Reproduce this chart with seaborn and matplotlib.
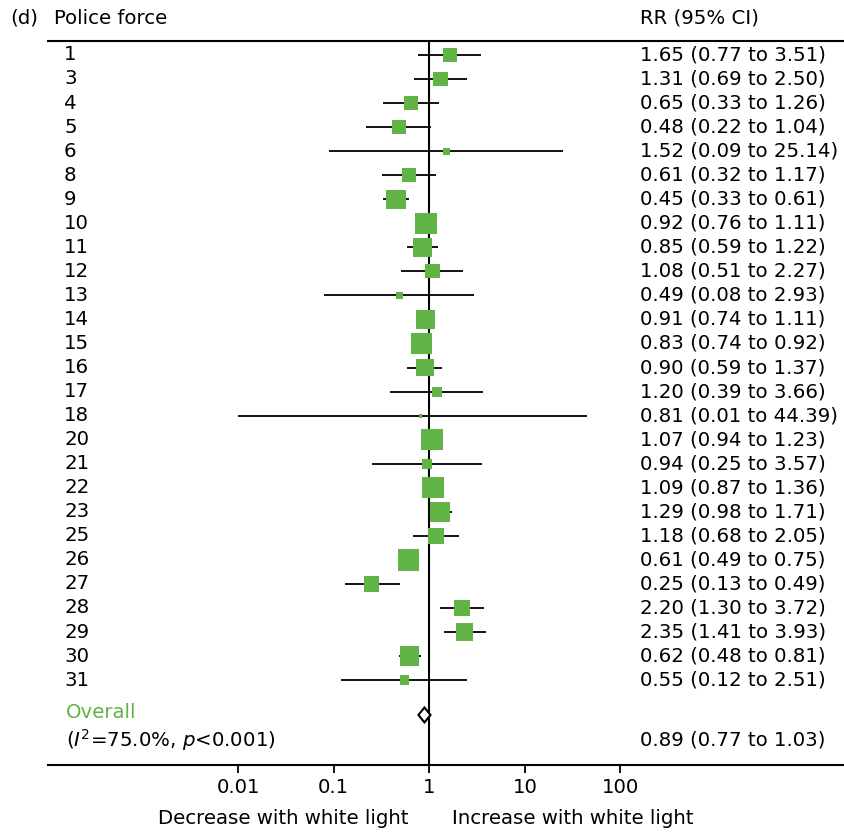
import numpy as np
import pandas as pd
import matplotlib
matplotlib.use("Agg")
import matplotlib.pyplot as plt
import matplotlib.transforms as mtransforms
import seaborn as sns

# Datos del forest plot (RR con IC 95%)
forces = ["1", "3", "4", "5", "6", "8", "9", "10", "11", "12", "13", "14", "15",
          "16", "17", "18", "20", "21", "22", "23", "25", "26", "27", "28", "29",
          "30", "31"]
rr = [1.65, 1.31, 0.65, 0.48, 1.52, 0.61, 0.45, 0.92, 0.85, 1.08, 0.49, 0.91, 0.83,
      0.90, 1.20, 0.81, 1.07, 0.94, 1.09, 1.29, 1.18, 0.61, 0.25, 2.20, 2.35,
      0.62, 0.55]
lo = [0.77, 0.69, 0.33, 0.22, 0.09, 0.32, 0.33, 0.76, 0.59, 0.51, 0.08, 0.74, 0.74,
      0.59, 0.39, 0.01, 0.94, 0.25, 0.87, 0.98, 0.68, 0.49, 0.13, 1.30, 1.41,
      0.48, 0.12]
hi = [3.51, 2.50, 1.26, 1.04, 25.14, 1.17, 0.61, 1.11, 1.22, 2.27, 2.93, 1.11, 0.92,
      1.37, 3.66, 44.39, 1.23, 3.57, 1.36, 1.71, 2.05, 0.75, 0.49, 3.72, 3.93,
      0.81, 2.51]
# peso relativo (%) estimado del tamaño de los cuadrados
weights = [2.8, 2.8, 2.8, 2.8, 0.7, 2.8, 5.2, 6.4, 5.2, 2.8, 0.7, 5.2, 6.4,
           4.2, 1.4, 0.2, 6.4, 1.4, 6.4, 5.8, 3.7, 6.4, 3.2, 3.7, 4.2, 5.2, 1.2]
overall_rr, overall_lo, overall_hi = 0.89, 0.77, 1.03
ticks = [0.01, 0.1, 1, 10, 100]
tick_labels = ["0.01", "0.1", "1", "10", "100"]

green = "#62b346"

sns.set_theme(style="white")
plt.rcParams['font.family'] = ['DejaVu Sans']
plt.rcParams['mathtext.fontset'] = 'dejavusans'
plt.rcParams['text.color'] = 'black'
plt.rcParams['xtick.color'] = 'black'
plt.rcParams['axes.labelcolor'] = 'black'
fs = 14.2

df = pd.DataFrame({"force": forces, "rr": rr, "lo": lo, "hi": hi, "w": weights})
df["pos"] = np.arange(len(df))
# lado del cuadrado en px proporcional a sqrt(peso); convertir a puntos
side_pt = np.sqrt(df["w"] * 72) * 0.72
df["area"] = side_pt ** 2

W, H = 844, 832
fig = plt.figure(figsize=(W / 100, H / 100), dpi=100)
ax = fig.add_axes([48 / W, (H - 764.5) / H, (W - 48) / W, 724 / H])
ax.set_xscale("log")

ax.hlines(df["pos"], df["lo"], df["hi"], color="black", lw=1.3, zorder=2)
ax.axvline(1, color="black", lw=1.5, zorder=1)
sns.scatterplot(data=df, x="rr", y="pos", s=df["area"], marker="s", color=green,
                linewidth=0, ax=ax, zorder=3, legend=False)

# diamante global
ov_y = 27.45
dh = 0.31
ax.fill([overall_lo, overall_rr, overall_hi, overall_rr],
        [ov_y, ov_y - dh, ov_y, ov_y + dh],
        facecolor="white", edgecolor="black", lw=1.5, zorder=4)

ax.set_xlim(10 ** -3.99, 10 ** 4.34)
ax.set_ylim(29.51, -0.60)
ax.set_xticks(ticks)
ax.set_xticklabels(tick_labels, fontsize=fs)
ax.xaxis.set_minor_locator(matplotlib.ticker.NullLocator())
ax.set_yticks([])
ax.tick_params(axis="x", direction="out", length=6, width=1.3, pad=4, bottom=True,
               colors="black")
ax.set_xlabel("")
ax.set_ylabel("")
for side in ["left", "right"]:
    ax.spines[side].set_visible(False)
for side in ["top", "bottom"]:
    ax.spines[side].set_linewidth(1.5)
    ax.spines[side].set_color("black")

# columnas de texto (x en fracción del eje, y en datos)
trans = mtransforms.blended_transform_factory(ax.transAxes, ax.transData)
axw = W - 48
xl = (64 - 48) / axw
xr = (640 - 48) / axw
for _, r in df.iterrows():
    ax.text(xl, r["pos"], r["force"], transform=trans, ha="left", va="center", fontsize=fs)
    ax.text(xr, r["pos"], f"{r['rr']:.2f} ({r['lo']:.2f} to {r['hi']:.2f})",
            transform=trans, ha="left", va="center", fontsize=fs)

ax.text(xl + 2 / axw, ov_y - 0.1, "Overall", transform=trans, ha="left", va="center",
        fontsize=fs, color=green)
ax.text(xl + 2 / axw, 28.5, r"($I^2$=75.0%, $p$<0.001)", transform=trans, ha="left",
        va="center", fontsize=fs)
ax.text(xr, 28.5, f"{overall_rr:.2f} ({overall_lo:.2f} to {overall_hi:.2f})",
        transform=trans, ha="left", va="center", fontsize=fs)

# cabeceras y etiquetas inferiores
fig.text(10 / W, 1 - 18 / H, "(d)", ha="left", va="center", fontsize=fs)
fig.text(54 / W, 1 - 18 / H, "Police force", ha="left", va="center", fontsize=fs)
fig.text(640 / W, 1 - 18 / H, "RR (95% CI)", ha="left", va="center", fontsize=fs)
fig.text(408 / W, 1 - 818 / H, "Decrease with white light", ha="right", va="center", fontsize=fs)
fig.text(452 / W, 1 - 818 / H, "Increase with white light", ha="left", va="center", fontsize=fs)

fig.savefig("out.png", dpi=100)
